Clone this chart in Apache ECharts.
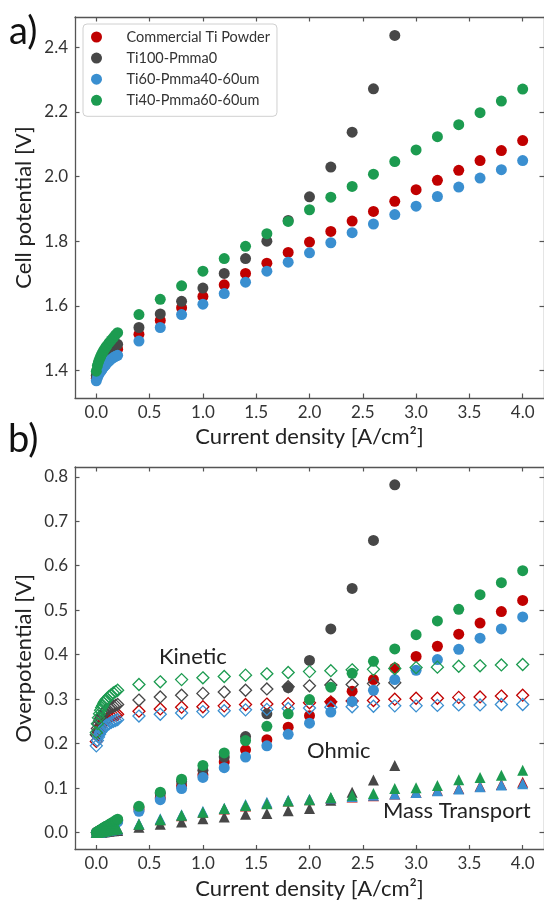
<!DOCTYPE html>
<html>
<head>
<meta charset="utf-8">
<script src="https://cdn.jsdelivr.net/npm/echarts@6/dist/echarts.min.js"></script>
<style>
  html, body { margin: 0; padding: 0; background: #fff; }
  #chart { width: 544px; height: 905px; }
</style>
</head>
<body>
<div id="chart"></div>
<script>
// current density [A/cm2] shared by all series
const current = [0, 0.01, 0.02, 0.03, 0.04, 0.05, 0.06, 0.07, 0.08, 0.09, 0.1, 0.12, 0.14, 0.16, 0.18, 0.2,
  0.4, 0.6, 0.8, 1.0, 1.2, 1.4, 1.6, 1.8, 2.0, 2.2, 2.4, 2.6, 2.8, 3.0, 3.2, 3.4, 3.6, 3.8, 4.0]

const sampleNames = ['Commercial Ti Powder', 'Ti100-Pmma0', 'Ti60-Pmma40-60um', 'Ti40-Pmma60-60um']
const sampleColors = ['#c00000', '#474747', '#3a8fd0', '#1c9b50']

// a) cell potential [V]
const cellCommercial = [1.375, 1.389, 1.398, 1.405, 1.412, 1.418, 1.423, 1.428, 1.432, 1.436, 1.440, 1.447, 1.453, 1.458, 1.462, 1.466,
  1.512, 1.555, 1.594, 1.629, 1.665, 1.700, 1.732, 1.765, 1.797, 1.830, 1.862, 1.892, 1.923, 1.959, 1.988, 2.019, 2.049, 2.080, 2.111]
const cellTi100 = [1.385, 1.400, 1.410, 1.418, 1.425, 1.431, 1.437, 1.442, 1.447, 1.451, 1.455, 1.462, 1.468, 1.473, 1.477, 1.481,
  1.533, 1.575, 1.614, 1.655, 1.700, 1.746, 1.800, 1.864, 1.937, 2.029, 2.137, 2.271, 2.436]
const cellTi60 = [1.368, 1.378, 1.386, 1.392, 1.397, 1.402, 1.407, 1.411, 1.415, 1.419, 1.423, 1.429, 1.435, 1.440, 1.444, 1.447,
  1.491, 1.533, 1.573, 1.605, 1.638, 1.673, 1.707, 1.735, 1.764, 1.795, 1.826, 1.853, 1.882, 1.908, 1.938, 1.967, 1.995, 2.021, 2.049]
const cellTi40 = [1.398, 1.415, 1.426, 1.435, 1.443, 1.450, 1.456, 1.462, 1.467, 1.472, 1.477, 1.486, 1.494, 1.502, 1.510, 1.517,
  1.573, 1.620, 1.662, 1.707, 1.746, 1.784, 1.823, 1.861, 1.897, 1.936, 1.969, 2.007, 2.046, 2.082, 2.123, 2.160, 2.197, 2.233, 2.270]

// b) ohmic overpotential [V]
const ohmicCommercial = [0, 0.001, 0.003, 0.004, 0.005, 0.007, 0.008, 0.009, 0.010, 0.012, 0.013, 0.016, 0.018, 0.021, 0.023, 0.026,
  0.052, 0.078, 0.105, 0.130, 0.159, 0.186, 0.209, 0.237, 0.263, 0.293, 0.318, 0.344, 0.370, 0.396, 0.419, 0.446, 0.471, 0.497, 0.522]
const ohmicTi100 = [0, 0.001, 0.003, 0.004, 0.006, 0.007, 0.008, 0.010, 0.011, 0.013, 0.014, 0.017, 0.020, 0.022, 0.025, 0.028,
  0.057, 0.088, 0.115, 0.140, 0.170, 0.216, 0.267, 0.326, 0.387, 0.458, 0.549, 0.657, 0.782]
const ohmicTi60 = [0, 0.001, 0.002, 0.004, 0.005, 0.006, 0.007, 0.008, 0.010, 0.011, 0.012, 0.014, 0.017, 0.019, 0.022, 0.024,
  0.048, 0.074, 0.099, 0.124, 0.146, 0.170, 0.195, 0.221, 0.246, 0.271, 0.295, 0.320, 0.344, 0.365, 0.389, 0.412, 0.437, 0.458, 0.485]
const ohmicTi40 = [0, 0.002, 0.003, 0.005, 0.006, 0.008, 0.009, 0.011, 0.012, 0.014, 0.015, 0.018, 0.021, 0.024, 0.027, 0.030,
  0.059, 0.091, 0.120, 0.151, 0.179, 0.207, 0.239, 0.267, 0.299, 0.327, 0.358, 0.385, 0.413, 0.445, 0.476, 0.502, 0.535, 0.562, 0.589]

// b) kinetic overpotential [V]
const kineticCommercial = [0.205, 0.218, 0.227, 0.233, 0.238, 0.242, 0.246, 0.249, 0.251, 0.253, 0.255, 0.258, 0.261, 0.263, 0.265, 0.266,
  0.273, 0.278, 0.282, 0.283, 0.285, 0.288, 0.289, 0.290, 0.292, 0.294, 0.296, 0.297, 0.300, 0.302, 0.302, 0.304, 0.305, 0.307, 0.309]
const kineticTi100 = [0.220, 0.234, 0.244, 0.251, 0.257, 0.262, 0.266, 0.269, 0.272, 0.275, 0.277, 0.280, 0.282, 0.284, 0.286, 0.288,
  0.298, 0.305, 0.309, 0.313, 0.316, 0.320, 0.323, 0.328, 0.330, 0.332, 0.333, 0.335, 0.337]
const kineticTi60 = [0.195, 0.207, 0.215, 0.221, 0.226, 0.230, 0.233, 0.236, 0.238, 0.240, 0.242, 0.245, 0.248, 0.250, 0.252, 0.254,
  0.262, 0.266, 0.269, 0.272, 0.274, 0.276, 0.277, 0.279, 0.280, 0.282, 0.283, 0.284, 0.285, 0.285, 0.286, 0.287, 0.287, 0.288, 0.288]
const kineticTi40 = [0.225, 0.245, 0.258, 0.267, 0.275, 0.281, 0.286, 0.291, 0.295, 0.298, 0.301, 0.306, 0.310, 0.314, 0.317, 0.320,
  0.333, 0.339, 0.344, 0.348, 0.351, 0.354, 0.357, 0.360, 0.362, 0.364, 0.366, 0.367, 0.369, 0.371, 0.372, 0.374, 0.375, 0.377, 0.378]

// b) mass transport overpotential [V]
const massCommercial = [0, 0.000, 0.001, 0.001, 0.002, 0.002, 0.003, 0.003, 0.004, 0.004, 0.005, 0.005, 0.006, 0.007, 0.007, 0.008,
  0.018, 0.029, 0.038, 0.046, 0.053, 0.060, 0.066, 0.071, 0.074, 0.077, 0.080, 0.083, 0.087, 0.091, 0.095, 0.099, 0.104, 0.108, 0.113]
const massTi100 = [0, 0.000, 0.000, 0.001, 0.001, 0.001, 0.002, 0.002, 0.002, 0.003, 0.003, 0.003, 0.004, 0.004, 0.005, 0.005,
  0.012, 0.019, 0.024, 0.031, 0.035, 0.041, 0.043, 0.049, 0.054, 0.073, 0.091, 0.118, 0.151]
const massTi60 = [0, 0.000, 0.001, 0.001, 0.002, 0.002, 0.003, 0.003, 0.004, 0.004, 0.005, 0.006, 0.006, 0.007, 0.008, 0.008,
  0.020, 0.031, 0.040, 0.048, 0.055, 0.063, 0.068, 0.073, 0.075, 0.078, 0.081, 0.084, 0.087, 0.090, 0.094, 0.098, 0.103, 0.107, 0.110]
const massTi40 = [0, 0.001, 0.001, 0.002, 0.002, 0.003, 0.003, 0.004, 0.004, 0.005, 0.005, 0.006, 0.007, 0.007, 0.008, 0.009,
  0.019, 0.029, 0.039, 0.046, 0.054, 0.061, 0.065, 0.071, 0.074, 0.079, 0.084, 0.088, 0.099, 0.101, 0.106, 0.119, 0.124, 0.129, 0.140]

// tick labels
const currentTicks = [0, 0.5, 1.0, 1.5, 2.0, 2.5, 3.0, 3.5, 4.0]
const cellTicks = [1.4, 1.6, 1.8, 2.0, 2.2, 2.4]
const overTicks = [0, 0.1, 0.2, 0.3, 0.4, 0.5, 0.6, 0.7, 0.8]

const cellData = [cellCommercial, cellTi100, cellTi60, cellTi40]
const ohmicData = [ohmicCommercial, ohmicTi100, ohmicTi60, ohmicTi40]
const kineticData = [kineticCommercial, kineticTi100, kineticTi60, kineticTi40]
const massData = [massCommercial, massTi100, massTi60, massTi40]

const FONT = 'Lato'
const AXIS_COLOR = '#555'
const TEXT_COLOR = '#222'

function pairs(ys) {
  return ys.map((v, i) => [current[i], v])
}

function makeAxis(opts) {
  // one side of the box: line + inward ticks, labels only on bottom/left
  return {
    type: 'value',
    gridIndex: opts.grid,
    position: opts.position,
    min: opts.min,
    max: opts.max,
    name: opts.name || '',
    nameLocation: 'middle',
    nameGap: opts.nameGap || 0,
    nameMoveOverlap: false,
    nameTextStyle: { fontFamily: FONT, fontSize: 22, color: TEXT_COLOR },
    axisLine: { show: true, onZero: false, lineStyle: { color: AXIS_COLOR, width: 1.3 } },
    axisTick: {
      show: true,
      inside: true,
      length: 4.5,
      customValues: opts.ticks,
      lineStyle: { color: AXIS_COLOR, width: 1.2 }
    },
    axisLabel: {
      show: !!opts.labels,
      inside: false,
      margin: opts.margin || 6,
      customValues: opts.ticks,
      fontFamily: FONT,
      fontSize: 17,
      color: '#333',
      formatter: function(v) { return Number(v).toFixed(1) }
    },
    splitLine: { show: false }
  }
}

const series = []
// a) cell potential
sampleNames.forEach((name, i) => {
  series.push({
    name: name,
    type: 'scatter',
    xAxisIndex: 0,
    yAxisIndex: 0,
    symbol: 'circle',
    symbolSize: 11,
    itemStyle: { color: sampleColors[i], opacity: 1 },
    data: pairs(cellData[i]),
    z: 2 + i
  })
})
// b) overpotential breakdown
sampleNames.forEach((name, i) => {
  series.push({
    name: name + ' kinetic',
    type: 'scatter',
    xAxisIndex: 2,
    yAxisIndex: 2,
    symbol: 'diamond',
    symbolSize: 12,
    itemStyle: { color: 'rgba(255,255,255,0)', borderColor: sampleColors[i], borderWidth: 1.3, opacity: 1 },
    data: pairs(kineticData[i]),
    z: 2 + i
  })
  series.push({
    name: name + ' ohmic',
    type: 'scatter',
    xAxisIndex: 2,
    yAxisIndex: 2,
    symbol: 'circle',
    symbolSize: 11,
    itemStyle: { color: sampleColors[i], opacity: 1 },
    data: pairs(ohmicData[i]),
    z: 2 + i
  })
  series.push({
    name: name + ' mass transport',
    type: 'scatter',
    xAxisIndex: 2,
    yAxisIndex: 2,
    symbol: 'triangle',
    symbolSize: 11,
    itemStyle: { color: sampleColors[i], opacity: 1 },
    data: pairs(massData[i]),
    z: 2 + i
  })
})

const chart = echarts.init(document.getElementById('chart'), null, { renderer: 'canvas' })
chart.setOption({
  animation: false,
  backgroundColor: '#fff',
  textStyle: { fontFamily: FONT },
  grid: [
    { left: 75, top: 17, width: 471.5, height: 381 },
    { left: 75, top: 467, width: 471.5, height: 382.5 }
  ],
  xAxis: [
    makeAxis({ grid: 0, position: 'bottom', min: -0.2, max: 4.2, ticks: currentTicks, labels: true, margin: 6,
      name: 'Current density [A/cm²]', nameGap: 28 }),
    makeAxis({ grid: 0, position: 'top', min: -0.2, max: 4.2, ticks: currentTicks }),
    makeAxis({ grid: 1, position: 'bottom', min: -0.2, max: 4.2, ticks: currentTicks, labels: true, margin: 6,
      name: 'Current density [A/cm²]', nameGap: 28 }),
    makeAxis({ grid: 1, position: 'top', min: -0.2, max: 4.2, ticks: currentTicks })
  ],
  yAxis: [
    makeAxis({ grid: 0, position: 'left', min: 1.315, max: 2.493, ticks: cellTicks, labels: true, margin: 7,
      name: 'Cell potential [V]', nameGap: 40 }),
    makeAxis({ grid: 0, position: 'right', min: 1.315, max: 2.493, ticks: cellTicks }),
    makeAxis({ grid: 1, position: 'left', min: -0.038, max: 0.822, ticks: overTicks, labels: true, margin: 7,
      name: 'Overpotential [V]', nameGap: 40 }),
    makeAxis({ grid: 1, position: 'right', min: -0.038, max: 0.822, ticks: overTicks })
  ],
  legend: {
    data: sampleNames,
    orient: 'vertical',
    left: 83,
    top: 24,
    padding: [5, 7, 8, 8],
    itemGap: 5.1,
    itemWidth: 22,
    itemHeight: 11,
    icon: 'circle',
    selectedMode: false,
    borderColor: '#d0d0d0',
    borderWidth: 1,
    borderRadius: 4,
    backgroundColor: 'rgba(255,255,255,0.85)',
    formatter: function(name) { return '{gap|}' + name },
    textStyle: {
      fontFamily: FONT,
      fontSize: 14.5,
      color: '#333',
      lineHeight: 16,
      rich: { gap: { width: 14 } }
    }
  },
  graphic: [
    { type: 'text', style: { x: 9, y: 32, text: 'a)', font: '38px ' + FONT, fill: '#111', verticalAlign: 'middle' } },
    { type: 'text', style: { x: 8, y: 440, text: 'b)', font: '38px ' + FONT, fill: '#111', verticalAlign: 'middle' } },
    { type: 'text', style: { x: 159, y: 657, text: 'Kinetic', font: '22px ' + FONT, fill: TEXT_COLOR, verticalAlign: 'middle' } },
    { type: 'text', style: { x: 307, y: 751, text: 'Ohmic', font: '22px ' + FONT, fill: TEXT_COLOR, verticalAlign: 'middle' } },
    { type: 'text', style: { x: 383, y: 811, text: 'Mass Transport', font: '22px ' + FONT, fill: TEXT_COLOR, verticalAlign: 'middle' } }
  ],
  series: series
})
</script>
</body>
</html>
